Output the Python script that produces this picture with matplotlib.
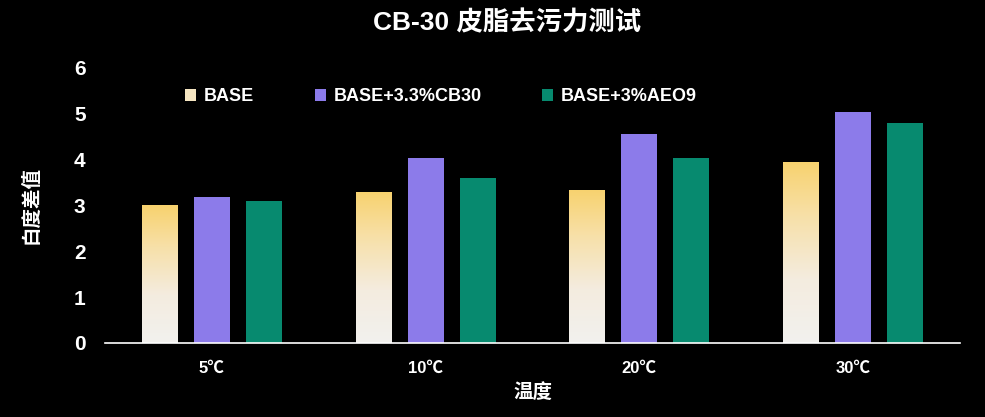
import numpy as np
import matplotlib
matplotlib.use('Agg')
import matplotlib.pyplot as plt
from matplotlib.colors import LinearSegmentedColormap
from matplotlib.patches import Patch

plt.rcParams['font.family'] = ['Liberation Sans', 'Noto Sans CJK SC', 'DejaVu Sans']

categories = ['5℃', '10℃', '20℃', '30℃']
base = [3.0, 3.3, 3.34, 3.95]
cb30 = [3.19, 4.04, 4.55, 5.04]
aeo9 = [3.1, 3.6, 4.04, 4.8]
series_names = ['BASE', 'BASE+3.3%CB30', 'BASE+3%AEO9']

purple = '#8C7BEA'
green = '#078A6F'
gold_cmap = LinearSegmentedColormap.from_list(
    'gold', [(0.0, '#F2F1EE'), (0.35, '#F4ECDF'), (0.7, '#F7E0A8'), (1.0, '#F8D26E')])

fig = plt.figure(figsize=(9.85, 4.17), dpi=100, facecolor='black')
ax = fig.add_axes([0.1066, 0.1775, 0.868, 0.6595])
ax.set_facecolor('black')

x = np.arange(len(categories))
w = 0.168
step = 0.243

bars_base = ax.bar(x - step, base, w, color='none', edgecolor='none')
ax.bar(x, cb30, w, color=purple)
ax.bar(x + step, aeo9, w, color=green)

# gradient fill for the BASE bars
grad = np.linspace(0, 1, 256).reshape(-1, 1)
for b in bars_base:
    x0, y0 = b.get_x(), b.get_y()
    im = ax.imshow(grad, cmap=gold_cmap, origin='lower', aspect='auto',
                   extent=[x0, x0 + b.get_width(), y0, y0 + b.get_height()], zorder=2)
    im.set_clip_path(b)

ax.set_xlim(-0.5, 3.5)
ax.set_ylim(0, 6)
ax.set_yticks(range(0, 7))
ax.set_xticks(x)
ax.set_xticklabels(categories, family=['Liberation Sans', 'Noto Sans CJK SC', 'DejaVu Sans'],
                   fontsize=12, fontweight='bold', color='white')
for lbl in ax.get_yticklabels():
    lbl.set_fontweight('bold')
    lbl.set_fontsize(15)
    lbl.set_color('white')
ax.tick_params(axis='both', length=0)
ax.tick_params(axis='y', pad=14)
ax.tick_params(axis='x', pad=13)

for s in ['left', 'right', 'top']:
    ax.spines[s].set_visible(False)
ax.spines['bottom'].set_color('white')
ax.spines['bottom'].set_linewidth(1.2)

ax.set_ylabel('白度差值', family=['Noto Sans CJK SC', 'DejaVu Sans'], fontsize=14,
              fontweight='bold', color='white', labelpad=24)
ax.set_xlabel('温度', family=['Noto Sans CJK SC', 'DejaVu Sans'], fontsize=14,
              fontweight='bold', color='white', labelpad=5)

fig.text(0.515, 0.945, 'CB-30 皮脂去污力测试', family=['Liberation Sans', 'Noto Sans CJK SC'],
         fontsize=19, fontweight='bold', color='white', ha='center', va='center')

handles = [Patch(facecolor='#F6E6C2'), Patch(facecolor=purple), Patch(facecolor=green)]
leg = ax.legend(handles, series_names, ncol=3, loc='center left', bbox_to_anchor=(0.0936, 0.895),
                frameon=False, borderaxespad=0, borderpad=0, handlelength=0.6, handleheight=0.6,
                handletextpad=0.45, columnspacing=3.35,
                prop={'family': 'Liberation Sans', 'weight': 'bold', 'size': 13})
for t in leg.get_texts():
    t.set_color('white')

fig.savefig('out.png', dpi=100, facecolor='black')
